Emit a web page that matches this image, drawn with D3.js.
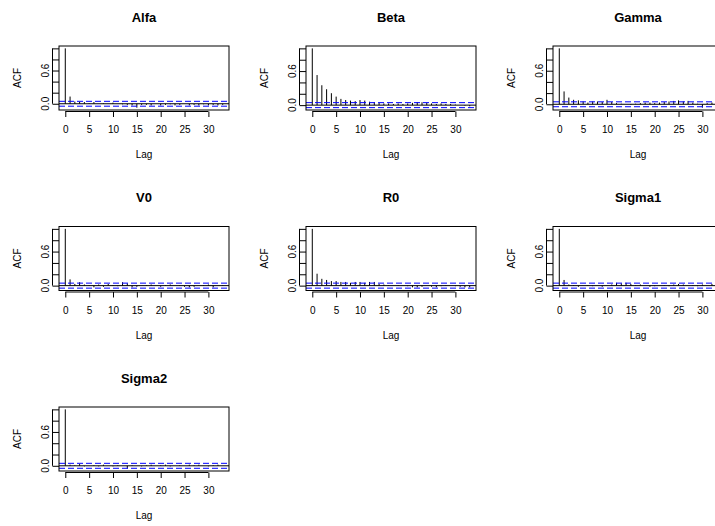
<!DOCTYPE html>
<html>
<head>
<meta charset="utf-8">
<script src="https://cdn.jsdelivr.net/npm/d3@7"></script>
<style>
  body { margin: 0; background: #fff; }
  svg { display: block; }
  text { font-family: "Liberation Sans", Arial, sans-serif; fill: #000; }
</style>
</head>
<body>
<div id="chart"></div>
<script>
// panel titles and ACF values for lags 0..33
const titles = ["Alfa", "Beta", "Gamma", "V0", "R0", "Sigma1", "Sigma2"];
const lags = d3.range(0, 34);
const xTicks = [0, 5, 10, 15, 20, 25, 30];
const yTicks = [0, 0.2, 0.4, 0.6, 0.8, 1.0];
const yLabels = [0, 0.6];
const clim = 0.044;

const alfa = [1, 0.13, 0.04, 0.035, 0.03, 0.01, 0.03, 0.0, 0.01, 0.0, 0.02, 0.0, -0.01, -0.02, -0.03, -0.07, -0.02,
  -0.02, -0.03, 0.0, -0.03, -0.02, -0.01, -0.03, -0.02, 0.0, -0.03, -0.02, -0.03, -0.01, -0.03, -0.02, -0.03, -0.02];
const beta = [1, 0.53, 0.35, 0.28, 0.21, 0.15, 0.11, 0.09, 0.08, 0.07, 0.09, 0.08, 0.06, 0.05, 0.04, 0.03, 0.03,
  0.02, 0.03, 0.02, 0.03, 0.04, 0.05, 0.05, 0.04, 0.03, 0.02, 0.03, 0.02, 0.02, 0.01, 0.0, -0.01, -0.02];
const gamma = [1, 0.23, 0.12, 0.08, 0.07, 0.05, 0.03, 0.05, 0.05, 0.04, 0.08, 0.04, 0.02, 0.01, 0.0, -0.01, 0.01,
  0.02, 0.03, 0.03, 0.02, 0.03, 0.04, 0.05, 0.06, 0.07, 0.05, 0.06, 0.03, 0.01, -0.06, 0.02, 0.03, 0.01];
const v0 = [1, 0.11, 0.03, 0.06, 0.02, 0.01, -0.03, 0.02, -0.02, 0.03, 0.01, -0.01, 0.06, 0.04, -0.03, -0.02, 0.0,
  0.01, 0.02, 0.0, -0.02, 0.01, 0.02, 0.0, 0.01, -0.02, -0.03, -0.02, 0.0, 0.01, 0.02, -0.03, 0.0, 0.01];
const r0 = [1, 0.21, 0.12, 0.10, 0.08, 0.08, 0.065, 0.065, 0.05, 0.065, 0.065, 0.05, 0.065, 0.065, 0.03, 0.02, 0.01,
  0.0, 0.01, 0.0, -0.01, -0.03, -0.03, -0.02, 0.0, -0.02, -0.03, -0.01, 0.01, 0.0, -0.01, -0.02, -0.03, -0.03];
const sigma1 = [1, 0.10, 0.02, 0.01, -0.02, 0.0, 0.01, -0.01, 0.0, -0.02, 0.0, 0.02, 0.05, 0.04, 0.05, 0.03, 0.01,
  0.02, 0.0, -0.02, -0.01, 0.0, 0.01, -0.01, 0.02, 0.03, 0.02, 0.0, 0.01, -0.01, 0.02, 0.0, 0.03, -0.02];
const sigma2 = [1, 0.02, 0.01, 0.03, -0.01, 0.0, 0.01, -0.01, 0.02, 0.0, -0.01, 0.01, 0.0, -0.05, 0.01, 0.0, -0.01,
  0.01, 0.02, 0.0, 0.01, 0.02, -0.01, 0.0, 0.01, 0.0, 0.02, 0.01, 0.02, 0.0, -0.01, 0.01, 0.02, 0.0];

const series = [alfa, beta, gamma, v0, r0, sigma1, sigma2];

const W = 715, H = 526;
const colW = 247, rowH = 180.5;
const boxL = 59, boxT = 46, boxW = 170, boxH = 64;

const svg = d3.select("#chart").append("svg")
    .attr("width", W)
    .attr("height", H);

series.forEach((acf, i) => {
    const col = i % 3, row = Math.floor(i / 3);
    const g = svg.append("g")
        .attr("transform", `translate(${col * colW + boxL},${row * rowH + boxT})`);

    // R style limits: 4% extension
    const xlo = 0, xhi = 33, xe = 0.04 * (xhi - xlo);
    const x = d3.scaleLinear().domain([xlo - xe, xhi + xe]).range([0, boxW]);
    const ylo = Math.min(-clim, d3.min(acf)), yhi = 1, ye = 0.04 * (yhi - ylo);
    const y = d3.scaleLinear().domain([ylo - ye, yhi + ye]).range([boxH, 0]);

    // bars
    g.selectAll("line.bar")
        .data(acf)
        .enter()
        .append("line")
        .attr("class", "bar")
        .attr("x1", (d, k) => x(lags[k]))
        .attr("x2", (d, k) => x(lags[k]))
        .attr("y1", y(0))
        .attr("y2", d => y(d))
        .attr("stroke", "#000")
        .attr("stroke-width", 1);

    // zero line
    g.append("line")
        .attr("x1", 0).attr("x2", boxW)
        .attr("y1", y(0)).attr("y2", y(0))
        .attr("stroke", "#000");

    // confidence limits
    [clim, -clim].forEach(c => {
        g.append("line")
            .attr("x1", 0).attr("x2", boxW)
            .attr("y1", y(c)).attr("y2", y(c))
            .attr("stroke", "#0000ff")
            .attr("stroke-dasharray", "6,3");
    });

    // frame
    g.append("rect")
        .attr("x", 0).attr("y", 0)
        .attr("width", boxW).attr("height", boxH)
        .attr("fill", "none")
        .attr("stroke", "#000");

    // x axis
    const xa = g.append("g")
        .attr("transform", `translate(0,${boxH + 1.5})`)
        .call(d3.axisBottom(x).tickValues(xTicks).tickSize(5.5).tickSizeOuter(0).tickPadding(9));
    xa.select(".domain").remove();
    xa.append("line")
        .attr("x1", x(xTicks[0])).attr("x2", x(xTicks[xTicks.length - 1]))
        .attr("stroke", "#000");
    xa.selectAll("text").style("font-size", "10px").attr("fill", "#000");

    // y axis
    const ya = g.append("g")
        .attr("transform", "translate(-6.5,0)")
        .call(d3.axisRight(y).tickValues(yTicks).tickSize(6.5).tickFormat(""));
    ya.select(".domain").remove();
    ya.append("line")
        .attr("y1", y(yTicks[0])).attr("y2", y(yTicks[yTicks.length - 1]))
        .attr("stroke", "#000");

    g.selectAll("text.ylab")
        .data(yLabels)
        .enter()
        .append("text")
        .attr("class", "ylab")
        .attr("transform", d => `translate(-10.5,${y(d)}) rotate(-90)`)
        .attr("text-anchor", "middle")
        .style("font-size", "10px")
        .text(d => d.toFixed(1));

    // labels
    g.append("text")
        .attr("x", boxW / 2).attr("y", -24.5)
        .attr("text-anchor", "middle")
        .style("font-size", "13px")
        .style("font-weight", "bold")
        .text(titles[i]);

    g.append("text")
        .attr("x", boxW / 2).attr("y", boxH + 48)
        .attr("text-anchor", "middle")
        .style("font-size", "10px")
        .text("Lag");

    g.append("text")
        .attr("transform", `translate(-38.5,${boxH / 2}) rotate(-90)`)
        .attr("text-anchor", "middle")
        .style("font-size", "10px")
        .text("ACF");
});
</script>
</body>
</html>
